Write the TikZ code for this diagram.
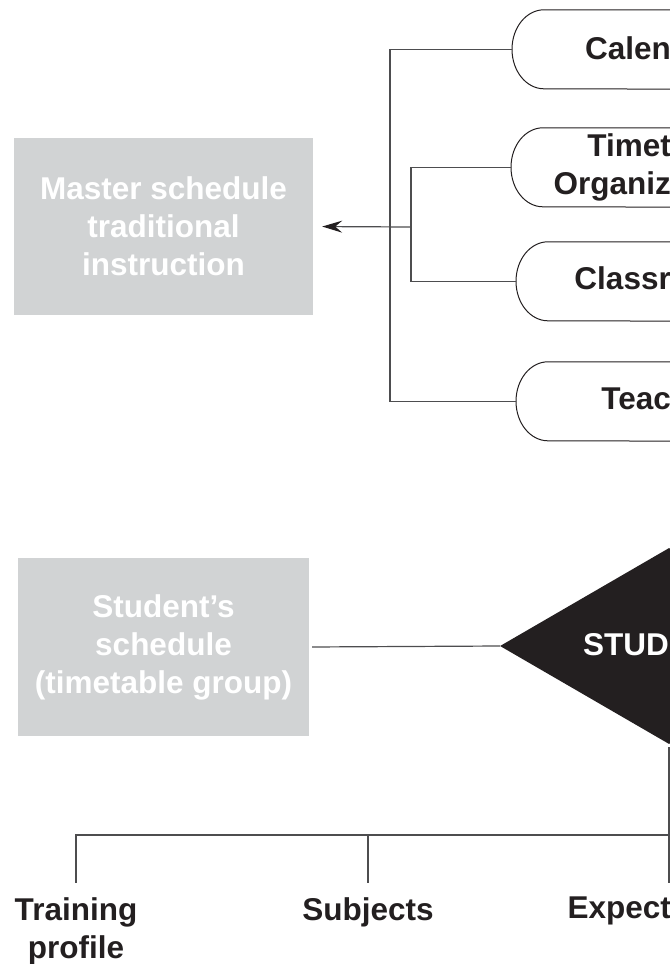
\documentclass[tikz,border=0pt]{standalone}
\usepackage{fontspec}
\setmainfont{Liberation Sans}
\usetikzlibrary{arrows.meta,shapes.geometric}
\definecolor{boxgray}{HTML}{D1D3D4}
\definecolor{ink}{HTML}{231F20}
\definecolor{wire}{HTML}{4D4D4F}
\tikzset{
  graybox/.style={rectangle, fill=boxgray, text=white, align=center, inner sep=0, font=\bfseries\fontsize{31.5bp}{38bp}\selectfont},
  lbl/.style={text=ink, inner sep=0, font=\bfseries\fontsize{31.5bp}{38bp}\selectfont},
  conn/.style={draw=wire, line width=1.2bp},
  pillbox/.style={rectangle, inner sep=0, minimum height=79bp, minimum width=200bp, anchor=west},
}
\newcommand{\pillpath}[1]{\draw[ink, line width=1bp] (#1.north east) -- ([xshift=32bp]#1.north west) arc[start angle=90, end angle=270, x radius=32bp, y radius=39.5bp] -- (#1.south east);}
\begin{document}
\begin{tikzpicture}[x=1bp,y=1bp]
\useasboundingbox (0,0) rectangle (670,-964);
\clip (0,0) rectangle (670,-964);
% master schedule and its sources
\node[graybox, minimum width=299bp, minimum height=177bp] (master) at (163.5,-226.5) {Master schedule\\traditional\\instruction};
\node[pillbox] (cal) at (512,-49.5) {};
\node[pillbox] (tim) at (511,-167.5) {};
\node[pillbox] (cls) at (516,-281.5) {};
\node[pillbox] (tea) at (516,-401.5) {};
\foreach \p in {cal,tim,cls,tea} {\pillpath{\p}}
\node[lbl, anchor=east] (calT) at (671,-48) {Calen};
\node[lbl, anchor=east, align=right] (timT) at (671,-167) {Timet\\Organiz};
\node[lbl, anchor=east] (clsT) at (671,-278) {Classr};
\node[lbl, anchor=east] (teaT) at (671,-399) {Teac};
\coordinate (outer) at (390,-227);
\coordinate (inner) at (411,-227);
\draw[conn] (cal.west) -| (outer) |- (tea.west);
\draw[conn] (tim.west) -| (inner) |- (cls.west);
\draw[conn, -{Stealth[length=20bp, width=12bp, inset=7bp, open=false, fill=ink, color=ink]}, shorten >=9bp] (inner) -- (master.east);
% student
\node[graybox, minimum width=291bp, minimum height=178bp] (sched) at (163.5,-647) {Student’s\\schedule\\(timetable group)};
\node[diamond, fill=ink, inner sep=0, minimum width=338bp, minimum height=196bp] (stu) at (669,-646) {};
\node[lbl, text=white, anchor=east] (stuT) at (669,-645) {STUD};
\draw[conn, shorten <=3bp] (sched.east) -- (stu.west);
% bottom branch
\node[lbl, align=center, anchor=north] (train) at (76,-897) {Training\\profile};
\node[lbl, anchor=north] (subj) at (368,-897) {Subjects};
\node[lbl, anchor=north east] (expt) at (671,-897) {Expect};
\coordinate (fork) at (669,-835);
\draw[conn, shorten <=3bp] (stu.south) -- ([yshift=14bp]stu.south |- expt.north);
\draw[conn] (fork) -| ([yshift=14bp]train.north);
\draw[conn] (fork -| subj.north) -- ([yshift=14bp]subj.north);
\end{tikzpicture}
\end{document}
